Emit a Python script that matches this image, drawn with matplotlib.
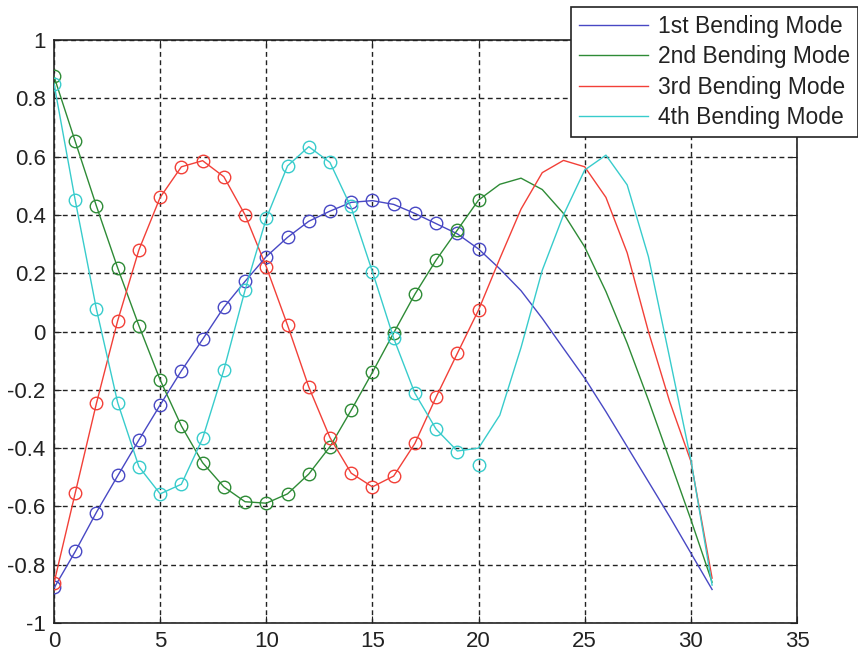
import matplotlib
matplotlib.use("Agg")
import matplotlib.pyplot as plt
import numpy as np

plt.rcParams['font.family'] = ['Liberation Sans', 'DejaVu Sans']

# Line data (nodes 0..31)
x_line = list(range(32))
mode1_line = [-0.88, -0.755, -0.62, -0.495, -0.372, -0.252, -0.135, -0.027, 0.083, 0.172,
              0.257, 0.323, 0.378, 0.413, 0.443, 0.449, 0.436, 0.405, 0.370, 0.335,
              0.283, 0.215, 0.14, 0.045, -0.058, -0.16, -0.275, -0.395, -0.515, -0.635,
              -0.76, -0.885]
mode2_line = [0.875, 0.652, 0.43, 0.218, 0.02, -0.166, -0.324, -0.45, -0.533, -0.584,
              -0.589, -0.557, -0.489, -0.395, -0.27, -0.14, -0.005, 0.128, 0.245, 0.348,
              0.451, 0.505, 0.526, 0.487, 0.405, 0.29, 0.137, -0.04, -0.235, -0.44,
              -0.645, -0.86]
mode3_line = [-0.863, -0.554, -0.246, 0.037, 0.28, 0.46, 0.565, 0.586, 0.531, 0.40,
              0.222, 0.022, -0.19, -0.364, -0.486, -0.533, -0.496, -0.384, -0.225, -0.075,
              0.074, 0.25, 0.42, 0.545, 0.587, 0.565, 0.46, 0.27, 0.0, -0.24,
              -0.445, -0.846]
mode4_line = [0.85, 0.45, 0.076, -0.244, -0.464, -0.557, -0.524, -0.367, -0.132, 0.142,
              0.388, 0.568, 0.634, 0.58, 0.425, 0.205, -0.023, -0.212, -0.335, -0.41,
              -0.40, -0.287, -0.055, 0.21, 0.40, 0.554, 0.605, 0.503, 0.257, -0.09,
              -0.44, -0.87]

# Marker data (nodes 0..20)
x_mark = list(range(21))
mode1_mark = [-0.875, -0.752, -0.621, -0.492, -0.372, -0.252, -0.134, -0.026, 0.084, 0.173,
              0.257, 0.323, 0.379, 0.414, 0.444, 0.451, 0.437, 0.405, 0.371, 0.337, 0.282]
mode2_mark = [0.877, 0.653, 0.43, 0.218, 0.019, -0.166, -0.324, -0.45, -0.532, -0.584,
              -0.589, -0.557, -0.489, -0.395, -0.27, -0.14, -0.005, 0.128, 0.245, 0.348, 0.451]
mode3_mark = [-0.863, -0.554, -0.246, 0.037, 0.28, 0.46, 0.565, 0.586, 0.531, 0.40,
              0.222, 0.022, -0.19, -0.364, -0.486, -0.533, -0.496, -0.384, -0.225, -0.075, 0.074]
mode4_mark = [0.85, 0.45, 0.076, -0.244, -0.464, -0.557, -0.524, -0.367, -0.132, 0.142,
              0.388, 0.568, 0.634, 0.58, 0.43, 0.205, -0.023, -0.212, -0.336, -0.412, -0.458]

labels = ['1st Bending Mode', '2nd Bending Mode', '3rd Bending Mode', '4th Bending Mode']
colors = ['#4848c4', '#2e8b36', '#f24038', '#38cccc']

xticks = [0, 5, 10, 15, 20, 25, 30, 35]
yticks = [-1, -0.8, -0.6, -0.4, -0.2, 0, 0.2, 0.4, 0.6, 0.8, 1]
ytick_labels = ['-1', '-0.8', '-0.6', '-0.4', '-0.2', '0', '0.2', '0.4', '0.6', '0.8', '1']

fig = plt.figure(figsize=(8.58, 6.51), dpi=100)
ax = fig.add_axes([54/858, 1-623/651, (797-54)/858, (623-40)/651])

lines_all = [mode1_line, mode2_line, mode3_line, mode4_line]
marks_all = [mode1_mark, mode2_mark, mode3_mark, mode4_mark]
handles = []
for yl, ym, c, lab in zip(lines_all, marks_all, colors, labels):
    h, = ax.plot(x_line, yl, color=c, lw=1.0, label=lab, zorder=3)
    ax.plot(x_mark, ym, linestyle='none', marker='o', markersize=9,
            markerfacecolor='none', markeredgecolor=c, markeredgewidth=1.0, zorder=3)
    handles.append(h)

ax.set_xlim(0, 35)
ax.set_ylim(-1, 1)
ax.set_xticks(xticks)
ax.set_yticks(yticks)
ax.set_yticklabels(ytick_labels)
ax.tick_params(direction='in', length=5, width=0.8, labelsize=16, top=True, right=True,
               colors='#222222', labelcolor='#222222', pad=6)
ax.grid(True, color='#222222', linestyle=(0, (3.5, 2.5)), linewidth=1.0)
for s in ax.spines.values():
    s.set_color('#222222')
    s.set_linewidth(1.2)

leg = fig.legend(handles=handles, loc='upper left', bbox_to_anchor=(571/858, 1-7/651),
                 borderaxespad=0, fontsize=16.5, handlelength=3.0, handletextpad=0.45,
                 labelspacing=0.32, borderpad=0.35, fancybox=False, framealpha=1,
                 edgecolor='#222222')
leg.get_frame().set_linewidth(1.2)
for t in leg.get_texts():
    t.set_color('#222222')

fig.savefig('out.png', dpi=100)
